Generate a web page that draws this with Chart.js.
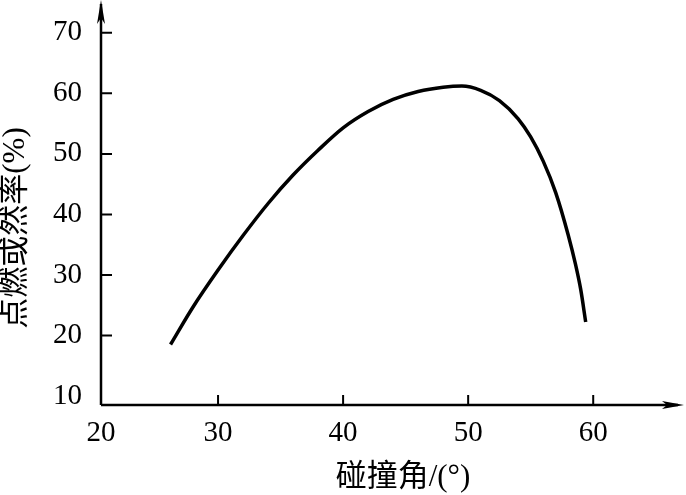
<!DOCTYPE html>
<html>
<head>
<meta charset="utf-8">
<script src="https://cdn.jsdelivr.net/npm/chart.js@4.4.0/dist/chart.umd.min.js"></script>
<style>
    html, body { margin: 0; padding: 0; background: #fff; }
    #wrap { width: 686px; height: 495px; }
</style>
</head>
<body>
<div id="wrap"><canvas id="ignitionChart"></canvas></div>
<script>
// values
const angles = [26.2, 28.0, 30.0, 32.0, 34.0, 36.0, 38.0, 40.0, 42.0, 44.0, 46.0, 48.0, 49.5, 51.0, 52.5, 54.0, 55.0, 56.0, 57.0, 58.0, 58.6, 59.0, 59.4];
const ignitionRate = [18.5, 24.7, 30.8, 36.5, 41.8, 46.5, 50.6, 54.3, 57.0, 59.0, 60.3, 61.0, 61.2, 60.5, 58.8, 55.8, 52.8, 48.8, 43.6, 36.6, 31.6, 27.6, 22.2];
const xTicks = [20, 30, 40, 50, 60];
const yTicks = [10, 20, 30, 40, 50, 60, 70];
const xTitle = '碰撞角/(°)';
const yTitle = '点燃或然率(%)';

const serif = '"Liberation Serif", "Noto Sans CJK SC", serif';

// axes with arrows, inward ticks and titles
const axesPlugin = {
    id: 'axesPlugin',
    afterDraw(chart) {
        const ctx = chart.ctx;
        const x = chart.scales.x;
        const y = chart.scales.y;
        const ox = x.left;
        const oy = y.bottom;
        ctx.save();
        ctx.strokeStyle = '#000';
        ctx.fillStyle = '#000';
        ctx.lineWidth = 2.5;

        ctx.beginPath();
        ctx.moveTo(ox, oy);
        ctx.lineTo(ox, 4);
        ctx.moveTo(ox, oy);
        ctx.lineTo(x.right - 4, oy);
        ctx.stroke();

        // arrow heads
        ctx.beginPath();
        ctx.moveTo(ox, 0);
        ctx.lineTo(ox + 4, 24);
        ctx.lineTo(ox, 18);
        ctx.lineTo(ox - 4, 24);
        ctx.closePath();
        ctx.fill();

        ctx.beginPath();
        ctx.moveTo(x.right + 2, oy);
        ctx.lineTo(x.right - 20, oy - 4);
        ctx.lineTo(x.right - 15, oy);
        ctx.lineTo(x.right - 20, oy + 4);
        ctx.closePath();
        ctx.fill();

        // tick marks pointing inside
        ctx.lineWidth = 2;
        ctx.beginPath();
        yTicks.slice(1).forEach(v => {
            const py = y.getPixelForValue(v);
            ctx.moveTo(ox, py);
            ctx.lineTo(ox + 11, py);
        });
        xTicks.slice(1).forEach(v => {
            const px = x.getPixelForValue(v);
            ctx.moveTo(px, oy);
            ctx.lineTo(px, oy - 10);
        });
        ctx.stroke();

        // titles
        ctx.font = '31px ' + serif;
        ctx.textAlign = 'center';
        ctx.textBaseline = 'middle';
        ctx.fillText(xTitle, 403, 478);
        ctx.translate(16, 228);
        ctx.rotate(-Math.PI / 2);
        ctx.fillText(yTitle, 0, 0);
        ctx.restore();
    }
};

const ctx = document.getElementById('ignitionChart').getContext('2d');
new Chart(ctx, {
    type: 'scatter',
    data: {
        datasets: [{
            data: angles.map((a, i) => ({ x: a, y: ignitionRate[i] })),
            showLine: true,
            borderColor: '#000',
            borderWidth: 3.5,
            pointRadius: 0,
            cubicInterpolationMode: 'monotone'
        }]
    },
    options: {
        responsive: true,
        maintainAspectRatio: false,
        animation: false,
        layout: { padding: { left: 0, top: 2, right: 4, bottom: 0 } },
        plugins: {
            legend: { display: false },
            tooltip: { enabled: false }
        },
        scales: {
            x: {
                type: 'linear',
                min: 20.64,
                max: 67.1,
                afterBuildTicks: s => { s.ticks = xTicks.map(v => ({ value: Math.max(v, s.min) })); },
                afterFit: s => { s.height = 90; s.paddingLeft = 0; s.paddingRight = 0; },
                grid: { display: false },
                border: { display: false },
                ticks: {
                    color: '#000',
                    padding: 3,
                    font: { family: serif, size: 29 },
                    callback: (v, i) => xTicks[i]
                }
            },
            y: {
                type: 'linear',
                min: 8.5,
                max: 75.1,
                afterBuildTicks: s => { s.ticks = yTicks.map(v => ({ value: Math.max(v, s.min) })); },
                afterFit: s => { s.width = 101; s.paddingTop = 0; s.paddingBottom = 0; },
                grid: { display: false },
                border: { display: false },
                ticks: {
                    color: '#000',
                    padding: 11,
                    font: { family: serif, size: 29 },
                    callback: (v, i) => yTicks[i]
                }
            }
        }
    },
    plugins: [axesPlugin]
});
</script>
</body>
</html>
